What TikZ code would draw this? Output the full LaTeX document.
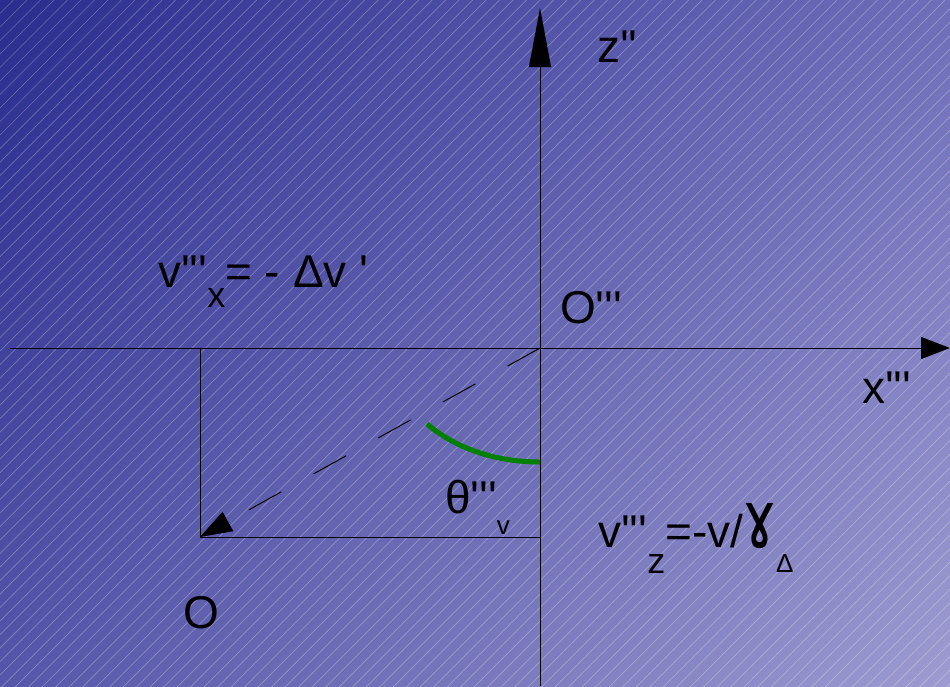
\documentclass[tikz,border=0pt]{standalone}
\usepackage{fontspec}
\newfontfamily\lib{Liberation Sans}
\newfontfamily\dvs{DejaVu Sans}
\usetikzlibrary{arrows.meta,shadings}
\definecolor{bgUL}{HTML}{2B2D8E}
\definecolor{bgUR}{HTML}{6E6EB9}
\definecolor{bgLL}{HTML}{5556A9}
\definecolor{bgLR}{HTML}{9D9BD0}
\definecolor{arcgreen}{HTML}{008000}
\newcommand\lsub[3]{\raisebox{-#1pt}{\fontsize{#2}{#2}\selectfont #3}}
\begin{document}
\begin{tikzpicture}[x=1pt,y=-1pt,
  lbl/.style={anchor=base west,inner sep=0pt,outer sep=0pt,font=\lib\fontsize{46}{50}\selectfont,text=black},
  axisline/.style={line width=1pt,draw=black},
  thinline/.style={line width=1pt,draw=black},
  hatch/.style={draw=white,opacity=0.28,line width=0.7pt},
  dashline/.style={line width=1pt,draw=black,dash pattern=on 37pt off 37pt},
  anglearc/.style={line width=5pt,draw=arcgreen}]
\useasboundingbox (0,0) rectangle (950,686);
\shade[upper left=bgUL,upper right=bgUR,lower left=bgLL,lower right=bgLR] (0,0) rectangle (950,686);
\begin{scope}
\clip (0,0) rectangle (950,686);
\foreach \c in {0,13.5,...,1660} {\draw[hatch] (\c,0) -- (\c-700,700);}
\end{scope}
% coordinates
\coordinate (xl) at (10,348);
\coordinate (xr) at (950,348);
\coordinate (zb) at (540,686);
\coordinate (zt) at (540,8);
\coordinate (Otr) at (540,348);
\coordinate (A) at (200,348);
\coordinate (B) at (200,537);
\coordinate (C) at (540,537);
\coordinate (a1) at (427,424);
\coordinate (a2) at (540,462);
% axes
\draw[axisline,-{Triangle[length=29pt,width=22pt]}] (xl) -- (xr);
\draw[axisline,-{Triangle[length=59pt,width=22pt]}] (zb) -- (zt);
% rectangle sides
\draw[thinline] (A) -- (B) -- (C);
% dashed vector
\draw[dashline,-{Triangle[length=32pt,width=22pt]}] (Otr) -- (B);
% angle arc
\draw[anglearc] (a1) .. controls (458,450) and (498,462) .. (a2);
% labels
\node[lbl] (zlab) at (597,62) {z''};
\node[lbl] (vxlab) at (158,287) {v'''\lsub{20}{36}{x}= - Δv '};
\node[lbl] (O3lab) at (560,323) {O'''};
\node[lbl] (xlab) at (862,403) {x'''};
\node[lbl] (thlab) at (445,513) {θ'''\lsub{21}{26}{v}};
\node[lbl] (vzlab) at (598,547) {v'''\lsub{26}{36}{z}=-v/\scalebox{1.2}[1.75]{\dvs ɤ}\lsub{25}{26}{Δ}};
\node[lbl] (Olab) at (183,628) {O};
\end{tikzpicture}
\end{document}
